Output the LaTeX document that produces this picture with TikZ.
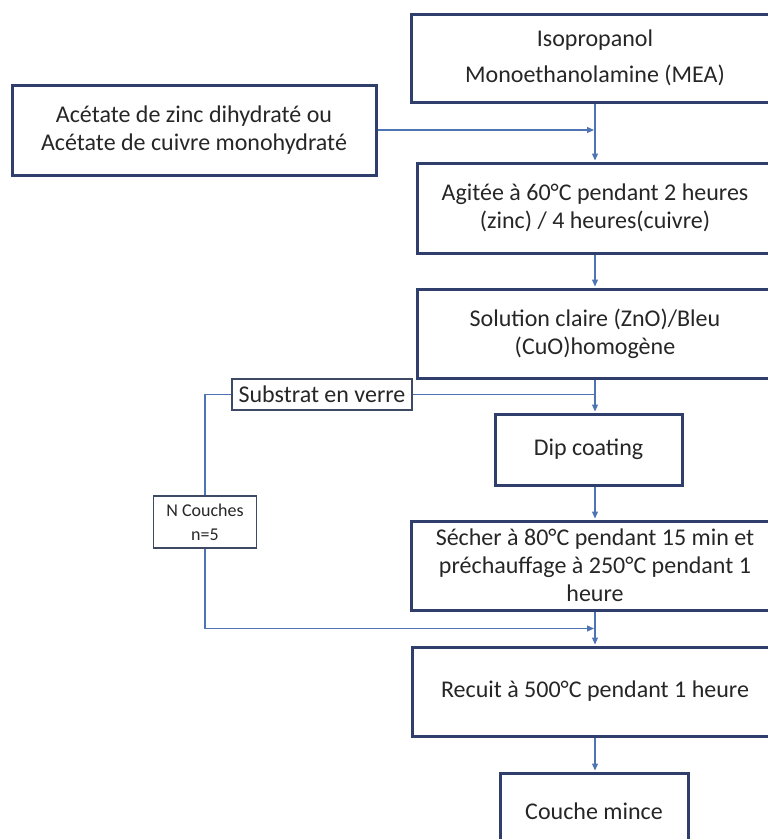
\documentclass[tikz,border=0pt]{standalone}
\usepackage{fontspec}
\setmainfont{Carlito}
\usetikzlibrary{arrows.meta,calc}
\definecolor{boxline}{HTML}{2F3E6B}
\definecolor{flow}{HTML}{4F74B3}
\definecolor{thinbox}{HTML}{3E4A63}

\begin{document}
\begin{tikzpicture}[x=1pt,y=-1pt,
  etape/.style={draw=boxline,line width=3pt,align=center,inner sep=0pt,text=black!85},
  petit/.style={draw=thinbox,line width=1.4pt,align=center,inner sep=0pt,text=black!85},
  fleche/.style={draw=flow,line width=1.2pt,-{Triangle[length=7pt,width=6pt]},shorten >=1pt},
  trait/.style={draw=flow,line width=1.2pt}]
\fontsize{24}{28}\selectfont
\useasboundingbox (0,0) rectangle (768,839);
\clip (0,0) rectangle (768,839);
\node[etape,minimum width=368pt,minimum height=88pt] (iso) at (595,58) {Isopropanol\\[8pt]Monoethanolamine (MEA)};
\node[etape,minimum width=364pt,minimum height=90pt] (acet) at (194,130) {Acétate de zinc dihydraté ou\\Acétate de cuivre monohydraté};
\node[etape,minimum width=356pt,minimum height=90pt] (agit) at (595,208) {Agitée à 60°C pendant 2 heures\\(zinc) / 4 heures(cuivre)};
\node[etape,minimum width=356pt,minimum height=89pt] (sol) at (595,333.5) {Solution claire (ZnO)/Bleu\\(CuO)homogène};
\node[petit,minimum width=180pt,minimum height=31pt] (subs) at (322,394.5) {Substrat en verre};
\node[etape,minimum width=187pt,minimum height=71pt] (dip) at (588.5,449.5) {Dip coating};
\node[petit,minimum width=103pt,minimum height=52pt,font=\fontsize{18}{24}\selectfont] (ncouches) at (205,522) {N Couches\\n=5};
\node[etape,minimum width=368pt,minimum height=89pt] (sech) at (595,565.5) {Sécher à 80°C pendant 15 min et\\préchauffage à 250°C pendant 1\\heure};
\node[etape,minimum width=366pt,minimum height=89pt] (recuit) at (595,691.5) {Recuit à 500°C pendant 1 heure};
\node[etape,minimum width=188pt,minimum height=76pt] (couche) at (594,811) {Couche mince};
\coordinate (retour) at ($(sech.south)!0.5!(recuit.north)$);
\draw[fleche] (iso) -- (agit);
\draw[fleche] (acet.east) -- (acet.east -| iso.south);
\draw[fleche] (agit) -- (sol);
\draw[fleche] (sol.south) -- (sol.south |- dip.north);
\draw[trait] (subs.east) -- (subs.east -| sol.south);
\draw[trait] (subs.west) -| (ncouches.north);
\draw[fleche] (ncouches.south) |- (retour);
\draw[fleche] (sech.north |- dip.south) -- (sech.north);
\draw[fleche] (sech) -- (recuit);
\draw[fleche] (recuit.south) -- (recuit.south |- couche.north);
\end{tikzpicture}
\end{document}
